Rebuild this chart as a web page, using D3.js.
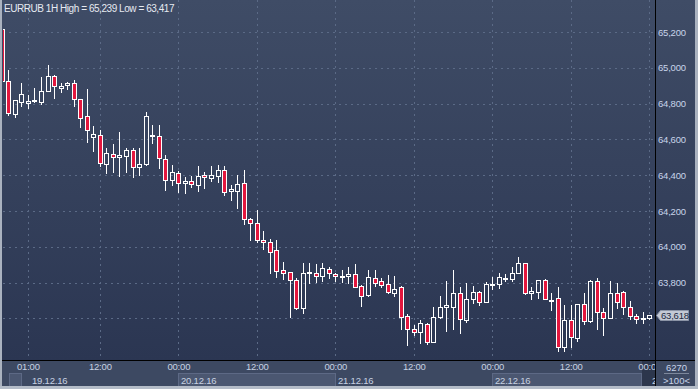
<!DOCTYPE html>
<html>
<head>
<meta charset="utf-8">
<script src="https://cdn.jsdelivr.net/npm/d3@7"></script>
<style>
html, body { margin: 0; padding: 0; background: #2e3a55; }
svg { display: block; font-family: "Liberation Sans", Arial, sans-serif; }
</style>
</head>
<body>
<div id="chart"></div>
<script>
// ---------------- data ----------------
const title = "EURRUB 1H High = 65,239 Low = 63,417";
const firstBar = "2016-12-18 21:00";   // one bar per hour
const opens = [
  65215, 64926, 64740, 64807, 64802, 64813, 64811, 64869, 64952, 64889,
  64902, 64915, 64824, 64729, 64612, 64623, 64463, 64517, 64500, 64509,
  64539, 64444, 64461, 64617, 64621, 64489, 64371, 64412, 64355, 64368,
  64347, 64399, 64386, 64397, 64427, 64310, 64313, 64356, 64154, 64131,
  64038, 64025, 63982, 63870, 63859, 63814, 63658, 63854, 63852, 63838,
  63878, 63846, 63829, 63835, 63846, 63781, 63732, 63824, 63807, 63790,
  63743, 63774, 63612, 63539, 63526, 63570, 63470, 63609, 63662, 63665,
  63740, 63591, 63707, 63746, 63693, 63789, 63790, 63822, 63818, 63852,
  63908, 63740, 63749, 63813, 63701, 63712, 63442, 63591, 63489, 63680,
  63585, 63809, 63636, 63604, 63740, 63746, 63662, 63615, 63600, 63600
];
const highs = [
  65239, 64988, 64822, 64917, 64848, 64887, 64949, 65016, 64960, 64913,
  64922, 64932, 64826, 64882, 64675, 64652, 64554, 64574, 64641, 64554,
  64554, 64550, 64753, 64679, 64679, 64513, 64457, 64425, 64388, 64395,
  64451, 64418, 64451, 64457, 64451, 64345, 64401, 64429, 64159, 64205,
  64088, 64043, 64038, 63915, 63862, 63824, 63908, 63908, 63904, 63908,
  63885, 63855, 63870, 63885, 63904, 63786, 63870, 63870, 63824, 63842,
  63837, 63781, 63623, 63563, 63591, 63576, 63662, 63725, 63809, 63870,
  63774, 63799, 63781, 63753, 63802, 63829, 63852, 63846, 63885, 63941,
  63911, 63774, 63815, 63818, 63743, 63774, 63675, 63675, 63681, 63743,
  63815, 63824, 63656, 63809, 63799, 63755, 63697, 63623, 63636, 63619
];
const lows = [
  64920, 64736, 64727, 64787, 64777, 64809, 64796, 64868, 64833, 64863,
  64880, 64787, 64668, 64584, 64535, 64453, 64411, 64419, 64397, 64419,
  64392, 64401, 64458, 64578, 64442, 64317, 64343, 64308, 64302, 64332,
  64313, 64330, 64368, 64364, 64289, 64261, 64218, 64129, 64036, 64028,
  63986, 63852, 63833, 63820, 63609, 63652, 63632, 63796, 63805, 63809,
  63824, 63810, 63805, 63796, 63773, 63671, 63727, 63783, 63777, 63740,
  63727, 63541, 63451, 63507, 63461, 63455, 63468, 63604, 63530, 63541,
  63517, 63581, 63684, 63675, 63692, 63764, 63771, 63810, 63810, 63851,
  63735, 63708, 63716, 63706, 63647, 63420, 63417, 63442, 63475, 63569,
  63578, 63541, 63507, 63600, 63656, 63623, 63595, 63576, 63576, 63598
];
const closes = [
  64928, 64746, 64820, 64854, 64815, 64820, 64870, 64952, 64897, 64898,
  64917, 64824, 64718, 64652, 64628, 64466, 64522, 64500, 64513, 64541,
  64446, 64463, 64729, 64623, 64496, 64371, 64418, 64358, 64368, 64349,
  64394, 64388, 64399, 64427, 64304, 64321, 64351, 64154, 64131, 64036,
  64025, 63973, 63866, 63855, 63814, 63658, 63852, 63859, 63838, 63880,
  63852, 63835, 63838, 63848, 63777, 63727, 63829, 63799, 63788, 63746,
  63764, 63609, 63539, 63526, 63572, 63470, 63606, 63662, 63675, 63740,
  63595, 63707, 63746, 63693, 63790, 63794, 63829, 63826, 63852, 63908,
  63740, 63753, 63814, 63707, 63705, 63442, 63591, 63494, 63680, 63587,
  63809, 63634, 63604, 63740, 63693, 63662, 63613, 63595, 63604, 63618
];
const gridPrices = [63600, 63800, 64000, 64200, 64400, 64600, 64800, 65000, 65200];
const priceLabels = [63800, 64000, 64200, 64400, 64600, 64800, 65000, 65200]; // 63,600 sits under the last-price tag
const timeTicks = [
  "2016-12-19 01:00", "2016-12-19 12:00", "2016-12-20 00:00", "2016-12-20 12:00",
  "2016-12-21 00:00", "2016-12-21 12:00", "2016-12-22 00:00", "2016-12-22 12:00",
  "2016-12-23 00:00"
];
const days = ["2016-12-18", "2016-12-19", "2016-12-20", "2016-12-21", "2016-12-22", "2016-12-23"];
const dayLabels = [null, "19.12.16", "20.12.16", "21.12.16", "22.12.16", "2"]; // last one is cut by the axis edge
const lastPrice = 63618;
const barCount = "6270";
const zoomLabel = ">100<";

// ---------------- init ----------------
const width = 698, height = 389;
const plot = { left: 3, right: 655, top: 0, bottom: 360 };

const parseTime = d3.timeParse("%Y-%m-%d %H:%M");
const parseDay = d3.timeParse("%Y-%m-%d");
const fmtPrice = d3.format(",");
const fmtTime = d3.timeFormat("%H:%M");

const times = d3.timeHour.range(parseTime(firstBar), d3.timeHour.offset(parseTime(firstBar), opens.length));
const bars = times.map((t, i) => ({ t, o: opens[i], h: highs[i], l: lows[i], c: closes[i] }));

const xScale = d3.scaleTime()
  .domain([parseTime("2016-12-18 20:44"), parseTime("2016-12-23 00:53")])
  .range([0, 655]);
const yScale = d3.scaleLinear().domain([63400, 65200]).range([354.2, 32]);

const svg = d3.select("#chart").append("svg")
  .attr("width", width).attr("height", height);

const defs = svg.append("defs");
const grad = defs.append("linearGradient").attr("id", "bg").attr("x1", 0).attr("x2", 0).attr("y1", 0).attr("y2", 1);
grad.append("stop").attr("offset", "0%").attr("stop-color", "#3f4c66");
grad.append("stop").attr("offset", "100%").attr("stop-color", "#2b3652");
defs.append("clipPath").attr("id", "plotClip").append("rect")
  .attr("x", plot.left).attr("y", plot.top).attr("width", plot.right - plot.left).attr("height", plot.bottom - plot.top);
defs.append("clipPath").attr("id", "timeClip").append("rect")
  .attr("x", plot.left).attr("y", plot.bottom).attr("width", plot.right - plot.left).attr("height", height - plot.bottom);

// backgrounds
svg.append("rect").attr("width", width).attr("height", plot.bottom).attr("fill", "url(#bg)");
svg.append("rect").attr("y", plot.bottom).attr("width", width).attr("height", height - plot.bottom).attr("fill", "#3d4962");

// ---------------- grid ----------------
const grid = svg.append("g").attr("clip-path", "url(#plotClip)");
grid.selectAll(".hg").data(gridPrices).enter().append("line")
  .attr("x1", plot.left).attr("x2", plot.right)
  .attr("y1", (d) => Math.round(yScale(d)) + 0.5).attr("y2", (d) => Math.round(yScale(d)) + 0.5)
  .attr("stroke", "#5b6a86").attr("stroke-dasharray", "2,4");
grid.selectAll(".vg").data(timeTicks).enter().append("line")
  .attr("x1", (d) => Math.round(xScale(parseTime(d))) + 0.5).attr("x2", (d) => Math.round(xScale(parseTime(d))) + 0.5)
  .attr("y1", plot.top).attr("y2", plot.bottom)
  .attr("stroke", "#5b6a86").attr("stroke-dasharray", "2,4");

// ---------------- candles ----------------
const candles = svg.append("g").attr("clip-path", "url(#plotClip)")
  .selectAll("g").data(bars).enter().append("g");

const cx = (d) => Math.round(xScale(d.t));
const yTop = (d) => Math.round(yScale(Math.max(d.o, d.c))) + 0.5;
const yBot = (d) => Math.max(Math.round(yScale(Math.min(d.o, d.c))) + 0.5, yTop(d) + 1);

candles.append("line")
  .attr("x1", (d) => cx(d) + 0.5).attr("x2", (d) => cx(d) + 0.5)
  .attr("y1", (d) => Math.round(yScale(d.h))).attr("y2", yTop)
  .attr("stroke", "#ffffff");
candles.append("line")
  .attr("x1", (d) => cx(d) + 0.5).attr("x2", (d) => cx(d) + 0.5)
  .attr("y1", yBot).attr("y2", (d) => Math.round(yScale(d.l)) + 1)
  .attr("stroke", "#ffffff");
candles.append("rect")
  .attr("x", (d) => cx(d) - 1.5).attr("width", 4)
  .attr("y", yTop).attr("height", (d) => yBot(d) - yTop(d))
  .attr("fill", (d) => (d.c < d.o ? "#e3173e" : "none"))
  .attr("stroke", "#ffffff");

// ---------------- price axis ----------------
const yAxis = d3.axisRight(yScale).tickValues(priceLabels).tickSize(0).tickPadding(0)
  .tickFormat((d) => fmtPrice(d));
const yAxisG = svg.append("g").attr("transform", `translate(${plot.right + 3},0)`).call(yAxis);
yAxisG.select(".domain").remove();
yAxisG.selectAll("text").attr("fill", "#c8d4ea").attr("font-size", "9.5px")
  .attr("font-family", "Liberation Sans, Arial, sans-serif").attr("letter-spacing", "-0.2px");

// last price marker
const lp = Math.round(yScale(lastPrice)) + 0.5;
svg.append("path")
  .attr("d", `M${plot.right + 1.5},${lp} L${plot.right + 5.5},${lp - 5} H${plot.right + 33.5} V${lp + 5} H${plot.right + 5.5} Z`)
  .attr("fill", "#c3c9d5").attr("stroke", "#8b94a6");
svg.append("text").attr("x", plot.right + 6).attr("y", lp + 3.5)
  .attr("font-size", "9.5px").attr("fill", "#1d2940").attr("letter-spacing", "-0.2px")
  .text(fmtPrice(lastPrice));

// ---------------- time axis ----------------
const timeG = svg.append("g").attr("clip-path", "url(#timeClip)");
const dayDates = days.map(parseDay);
timeG.selectAll(".day").data(dayDates).enter().append("rect")
  .attr("x", (d) => Math.max(9.5, Math.round(xScale(d)) + 0.5))
  .attr("y", 373.5)
  .attr("width", (d) => Math.max(0, Math.min(641.5, Math.round(xScale(d3.timeDay.offset(d, 1))) + 0.5) - Math.max(9.5, Math.round(xScale(d)) + 0.5)))
  .attr("height", 13)
  .attr("fill", (d, i) => (i % 2 === 0 ? "#4b5771" : "none"))
  .attr("stroke", (d, i) => (i % 2 === 0 ? "#5d6985" : "none"));
timeG.append("rect").attr("x", 642).attr("y", plot.bottom).attr("width", 13).attr("height", 29).attr("fill", "#2c364c");

const xAxis = d3.axisBottom(xScale).tickValues(timeTicks.map(parseTime)).tickSize(0).tickPadding(0)
  .tickFormat((d) => fmtTime(d));
const xAxisG = timeG.append("g").attr("transform", `translate(0,${plot.bottom + 3})`).call(xAxis);
xAxisG.select(".domain").remove();
xAxisG.selectAll("text").attr("fill", "#c8d2e2").attr("font-size", "9.5px")
  .attr("font-family", "Liberation Sans, Arial, sans-serif").attr("letter-spacing", "-0.2px");

timeG.selectAll(".dayLabel").data(dayDates.filter((d, i) => dayLabels[i])).enter().append("text")
  .attr("x", (d, i) => (i === 0 ? 32 : Math.round(xScale(d)) + 3))
  .attr("y", 383.5)
  .attr("font-size", "9.5px").attr("fill", "#c8d2e2").attr("letter-spacing", "-0.2px")
  .text((d, i) => dayLabels.filter(Boolean)[i]);

// corner box
svg.append("text").attr("x", 676.5).attr("y", 370.5).attr("text-anchor", "middle")
  .attr("font-size", "9.5px").attr("fill", "#c8d4ea").text(barCount);
svg.append("line").attr("x1", 664).attr("x2", 689).attr("y1", 373.5).attr("y2", 373.5).attr("stroke", "#7d889c");
svg.append("text").attr("x", 676.5).attr("y", 383.5).attr("text-anchor", "middle")
  .attr("font-size", "9.5px").attr("fill", "#c8d4ea").text(zoomLabel);

// separators and frame
svg.append("line").attr("x1", plot.right + 0.5).attr("x2", plot.right + 0.5).attr("y1", 0).attr("y2", height).attr("stroke", "#000");
svg.append("line").attr("x1", 0).attr("x2", width).attr("y1", plot.bottom + 0.5).attr("y2", plot.bottom + 0.5).attr("stroke", "#000");
svg.append("rect").attr("x", 0).attr("y", 0).attr("width", 2).attr("height", height).attr("fill", "#aab2bf");
svg.append("rect").attr("x", width - 3).attr("y", 0).attr("width", 3).attr("height", height).attr("fill", "#aab2bf");
svg.append("rect").attr("x", 0).attr("y", height - 3).attr("width", width).attr("height", 3).attr("fill", "#b4bcc8");

// title
svg.append("text").attr("x", 4).attr("y", 12).attr("font-size", "10px")
  .attr("letter-spacing", "-0.45px").attr("fill", "#e6eaf1").text(title);
</script>
</body>
</html>
